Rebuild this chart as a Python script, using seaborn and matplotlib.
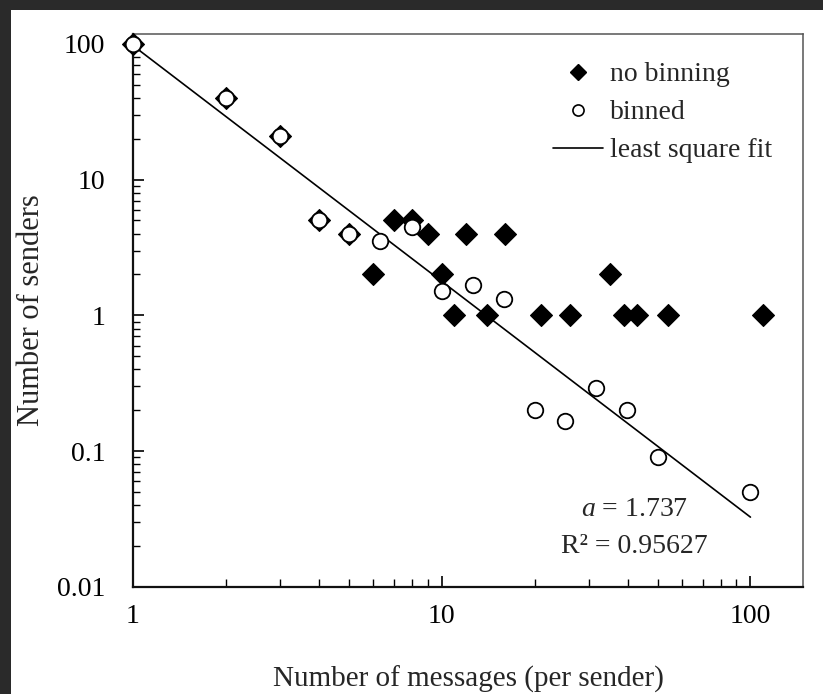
import pandas as pd
import seaborn as sns
import matplotlib
matplotlib.use("Agg")
from matplotlib import pyplot as plt
from matplotlib.patches import Rectangle
from matplotlib.lines import Line2D

# values
raw_x = [1, 2, 3, 4, 5, 6, 7, 8, 9, 10, 11, 12, 14, 16, 21, 26, 35, 39, 43, 54, 110]
raw_y = [100, 40, 21, 5, 4, 2, 5, 5, 4, 2, 1, 4, 1, 4, 1, 1, 2, 1, 1, 1, 1]

binned_x = [1, 2, 3, 4, 5, 6.3, 8, 10, 12.6, 15.9, 20, 25, 31.6, 39.8, 50, 100]
binned_y = [100, 40, 21, 5, 4, 3.5, 4.5, 1.5, 1.66, 1.33, 0.2, 0.166, 0.29, 0.2, 0.09, 0.05]

fit_x = [1, 100]
fit_y = [97, 0.0327]

x_ticks = [1, 10, 100]
x_tick_labels = ["1", "10", "100"]
y_ticks = [0.01, 0.1, 1, 10, 100]
y_tick_labels = ["0.01", "0.1", "1", "10", "100"]

raw_df = pd.DataFrame({"messages": raw_x, "senders": raw_y})
binned_df = pd.DataFrame({"messages": binned_x, "senders": binned_y})
fit_df = pd.DataFrame({"messages": fit_x, "senders": fit_y})

sns.set_style("ticks")
plt.rcParams["font.family"] = ["Liberation Serif", "DejaVu Serif"]
plt.rcParams["mathtext.fontset"] = "custom"
plt.rcParams["mathtext.rm"] = "Liberation Serif"
plt.rcParams["mathtext.it"] = "Liberation Serif:italic"

fs = 20

fig = plt.figure(figsize=(8.23, 6.94), dpi=100)
fig.patch.set_facecolor("white")
# dark edge of the photo on top and left
fig.patches.append(Rectangle((0, 1 - 10 / 694), 1, 10 / 694, transform=fig.transFigure,
                             facecolor="#2a2a2a", edgecolor="none", zorder=-5))
fig.patches.append(Rectangle((0, 0), 11 / 823, 1, transform=fig.transFigure,
                             facecolor="#2a2a2a", edgecolor="none", zorder=-5))

ax = fig.add_axes([133 / 823, 107 / 694, 670 / 823, 553 / 694])
ax.set_facecolor("white")

sns.lineplot(x="messages", y="senders", data=fit_df, ax=ax, color="black",
             linewidth=1.2, zorder=2, label="least square fit")
sns.scatterplot(x="messages", y="senders", data=raw_df, ax=ax, marker="D", s=125,
                color="black", edgecolor="black", linewidth=0.8, zorder=3,
                label="no binning", clip_on=False)
sns.scatterplot(x="messages", y="senders", data=binned_df, ax=ax, marker="o", s=125,
                facecolor="white", edgecolor="black", linewidth=1.3, zorder=4,
                label="binned", clip_on=False)

ax.set_xscale("log")
ax.set_yscale("log")
ax.set_xlim(1, 148)
ax.set_ylim(0.01, 118)

ax.set_xticks(x_ticks)
ax.set_xticklabels(x_tick_labels)
ax.set_yticks(y_ticks)
ax.set_yticklabels(y_tick_labels)

ax.tick_params(which="both", direction="in", top=False, right=False, colors="black")
ax.tick_params(axis="y", which="major", length=8, width=1.2, pad=20, labelsize=fs)
ax.tick_params(axis="y", which="minor", length=5, width=1.0)
ax.tick_params(axis="x", which="major", length=8, width=1.2, pad=12, labelsize=fs)
ax.tick_params(axis="x", which="minor", length=6, width=1.0)

for side in ["left", "bottom"]:
    ax.spines[side].set_linewidth(1.6)
    ax.spines[side].set_color("#111111")
for side in ["top", "right"]:
    ax.spines[side].set_linewidth(1.1)
    ax.spines[side].set_color("#555555")

ax.set_xlabel("Number of messages (per sender)", fontsize=21, labelpad=27)
ax.set_ylabel("Number of senders", fontsize=22, labelpad=8)

handles = [
    Line2D([], [], marker="D", color="black", linestyle="none", markersize=8),
    Line2D([], [], marker="o", markerfacecolor="white", markeredgecolor="black",
           markeredgewidth=1.2, linestyle="none", markersize=8),
    Line2D([], [], color="black", linewidth=1.2),
]
ax.legend(handles, ["no binning", "binned", "least square fit"], frameon=False,
          fontsize=fs, loc="upper left", bbox_to_anchor=(553 / 823, 1 - 62 / 694),
          bbox_transform=fig.transFigure, borderpad=0, borderaxespad=0,
          handlelength=1.8, handletextpad=0.25, labelspacing=0.45)

ax.text(0.748, 0.128, "$a$ = 1.737", transform=ax.transAxes, ha="center",
        va="baseline", fontsize=fs)
ax.text(0.748, 0.0615, "R² = 0.95627", transform=ax.transAxes, ha="center",
        va="baseline", fontsize=fs)

fig.savefig("out.png", dpi=100, facecolor=fig.get_facecolor())
